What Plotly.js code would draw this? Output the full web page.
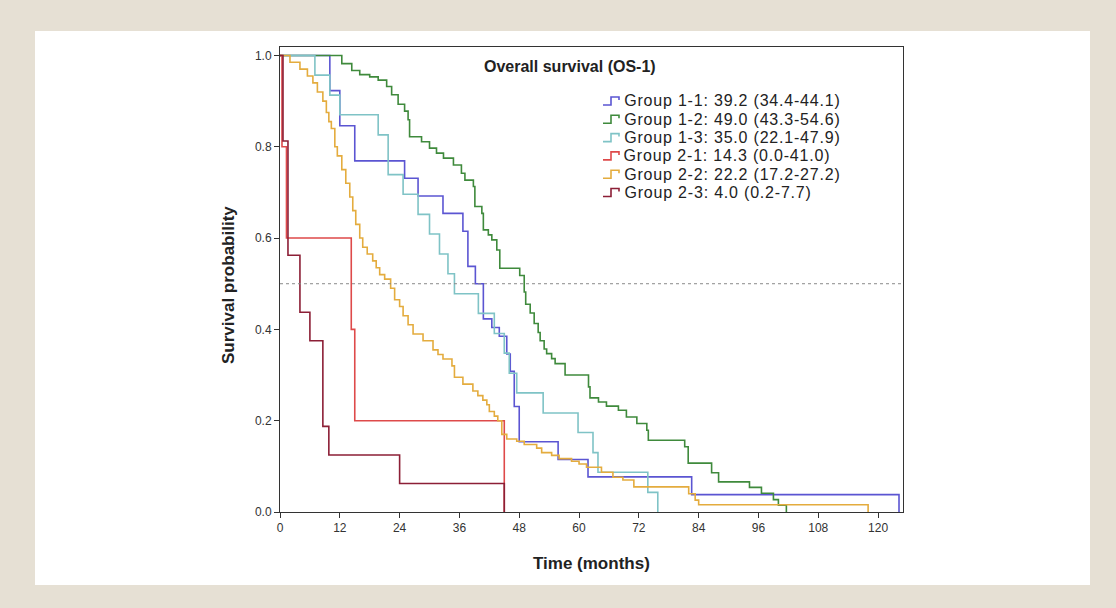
<!DOCTYPE html>
<html>
<head>
<meta charset="utf-8">
<script src="https://cdn.plot.ly/plotly-3.0.1.min.js"></script>
<style>
  html, body { margin: 0; padding: 0; background: #e6e0d4; }
  #chart { width: 1116px; height: 608px; }
  .annotation[data-index="3"] text, .annotation[data-index="4"] text,
  .annotation[data-index="5"] text, .annotation[data-index="6"] text,
  .annotation[data-index="7"] text, .annotation[data-index="8"] text { letter-spacing: 0.8px; }
</style>
</head>
<body>
<div id="chart"></div>
<script>
// ---------- data ----------
const groupNames = ['Group 1-1', 'Group 1-2', 'Group 1-3', 'Group 2-1', 'Group 2-2', 'Group 2-3'];
const medianLabels = ['39.2 (34.4-44.1)', '49.0 (43.3-54.6)', '35.0 (22.1-47.9)', '14.3 (0.0-41.0)', '22.2 (17.2-27.2)', '4.0 (0.2-7.7)'];

const time11 = [0,10,12,15,25,27.7,32.7,36.7,37.7,39.2,40.8,42.5,44,45.5,46.2,47,48,55.8,61.8,82.6,124.2];
const surv11 = [1,0.923,0.846,0.769,0.731,0.692,0.654,0.615,0.538,0.5,0.423,0.404,0.385,0.346,0.308,0.231,0.154,0.115,0.077,0.038,0];

const time12 = [0,12.4,14.4,16,18,19.7,21.4,22.4,23.7,25,25.7,26,28.4,30,31.4,32.8,34.8,36.4,37.1,38.8,39.1,40.5,40.8,41.8,42.5,43.5,44.1,48.1,49,49.3,50.2,51,51.8,52.2,53,53.5,54.5,55.2,57.2,61.9,62.2,63.9,65.5,67.9,69.5,71.6,73.6,73.9,81.2,81.9,86.6,88,94.2,96.6,99,100,101.6];
const surv12 = [1,0.982,0.967,0.958,0.953,0.946,0.932,0.914,0.893,0.878,0.859,0.822,0.811,0.797,0.786,0.775,0.76,0.742,0.727,0.713,0.669,0.654,0.618,0.607,0.596,0.574,0.534,0.518,0.482,0.455,0.436,0.413,0.393,0.375,0.357,0.347,0.336,0.325,0.3,0.274,0.25,0.241,0.232,0.223,0.208,0.194,0.179,0.157,0.143,0.107,0.086,0.066,0.054,0.041,0.027,0.015,0];

const time13 = [0,7,10,12,19.7,21.7,24.7,27.7,30,32,33.7,35,39.8,43,45,46,47.5,52.8,59.8,62.8,63.8,73.8,75.8];
const surv13 = [1,0.957,0.913,0.870,0.826,0.739,0.696,0.652,0.609,0.565,0.522,0.478,0.435,0.391,0.348,0.304,0.261,0.217,0.174,0.130,0.087,0.043,0];

const time21 = [0,0.4,1.3,14.3,15,45];
const surv21 = [1,0.8,0.6,0.4,0.2,0];

const time22 = [0,2,4,5.5,6.6,7.5,8.6,9.3,9.8,10.3,11,11.5,12.4,13.2,14,14.6,15.2,16,16.6,17.5,18.6,19.3,20,21,22.2,23,24,24.7,25.7,26.7,28.7,30.7,31.7,32.7,34.5,35,36.7,38.7,39.7,40.7,41.5,42,43,43.7,44.5,45.5,47.5,49,51.5,52.5,54.5,56,58.5,60,61.5,64.5,66.8,68.8,71,82,83.3,84,118];
const surv22 = [1,0.985,0.97,0.955,0.94,0.92,0.90,0.875,0.855,0.84,0.80,0.78,0.75,0.72,0.69,0.66,0.63,0.60,0.58,0.565,0.55,0.535,0.52,0.51,0.49,0.465,0.45,0.43,0.41,0.39,0.375,0.355,0.345,0.335,0.32,0.295,0.28,0.265,0.255,0.245,0.235,0.22,0.21,0.20,0.17,0.16,0.155,0.148,0.14,0.13,0.124,0.117,0.111,0.105,0.098,0.087,0.076,0.07,0.055,0.04,0.026,0.016,0];

const time23 = [0,0.6,1.6,4,6,8.6,9.8,24,45];
const surv23 = [1,0.8125,0.5625,0.4375,0.375,0.1875,0.125,0.0625,0];

const xTicks = [0,12,24,36,48,60,72,84,96,108,120];
const yTicks = [0,0.2,0.4,0.6,0.8,1.0];
const yTickText = ['0.0','0.2','0.4','0.6','0.8','1.0'];

// ---------- styles ----------
const colors = ['#5b55d2', '#3f8a3c', '#7fc3c6', '#de4a4a', '#e4ac3e', '#8c1f36'];
const FONT = 'Liberation Sans, Arial, sans-serif';
const LEG_SPACING = 0.8; // matches the CSS letter-spacing above

const times = [time11, time12, time13, time21, time22, time23];
const survs = [surv11, surv12, surv13, surv21, surv22, surv23];

// plot area in pixels
const W = 1116, H = 608, L = 280, R = 903, T = 47, B = 512;
const px = x => (x - L) / (R - L);
const py = y => (B - y) / (B - T);

const traces = times.map((t, i) => ({
  x: t, y: survs[i], type: 'scatter', mode: 'lines',
  line: { shape: 'hv', color: colors[i], width: 1.6 },
  name: groupNames[i], showlegend: false, hoverinfo: 'skip'
}));

const shapes = [
  // white inner panel
  { type: 'rect', xref: 'paper', yref: 'paper', layer: 'below',
    x0: px(35), x1: px(1090), y0: py(585), y1: py(31),
    fillcolor: '#ffffff', line: { width: 0 } },
  // dashed median reference line
  { type: 'line', xref: 'paper', yref: 'y', x0: 0, x1: 1, y0: 0.5, y1: 0.5,
    line: { color: '#8a8a8a', width: 1, dash: 'dot' } }
];

const annotations = [
  { text: '<b>Overall survival (OS-1)</b>', xref: 'paper', yref: 'paper',
    x: px(570), y: py(66), showarrow: false, xanchor: 'center', yanchor: 'middle',
    font: { family: FONT, size: 16, color: '#222' } },
  { text: '<b>Time (months)</b>', xref: 'paper', yref: 'paper',
    x: px(591), y: py(563), showarrow: false, xanchor: 'center', yanchor: 'middle',
    font: { family: FONT, size: 17, color: '#222' } },
  { text: '<b>Survival probability</b>', xref: 'paper', yref: 'paper', textangle: -90,
    x: px(228), y: py(285), showarrow: false, xanchor: 'center', yanchor: 'middle',
    font: { family: FONT, size: 17, color: '#222' } }
];

// custom legend (SPSS style step glyph + label)
const legX = 603, legY0 = 101, legDY = 18.3;
groupNames.forEach((g, i) => {
  const yc = legY0 + i * legDY;
  const label = g + ': ' + medianLabels[i];
  const path = `M${px(legX)},${py(yc + 4)} L${px(legX + 8)},${py(yc + 4)} L${px(legX + 8)},${py(yc - 4)} L${px(legX + 16)},${py(yc - 4)} L${px(legX + 16)},${py(yc - 1)}`;
  shapes.push({ type: 'path', xref: 'paper', yref: 'paper', path: path,
    line: { color: colors[i], width: 1.6 } });
  annotations.push({ text: label, xref: 'paper', yref: 'paper',
    x: px(legX + 19 + label.length * LEG_SPACING / 2), y: py(yc), showarrow: false,
    xanchor: 'left', yanchor: 'middle',
    font: { family: FONT, size: 16, color: '#222' } });
});

const axisCommon = {
  showgrid: false, zeroline: false, showline: true, linecolor: '#333', linewidth: 1,
  mirror: true, ticks: 'outside', ticklen: 5, tickcolor: '#333', tickwidth: 1,
  tickfont: { family: FONT, size: 12, color: '#333' }, fixedrange: true
};

const layout = {
  width: W, height: H,
  margin: { l: L, r: W - R, t: T, b: H - B, pad: 0 },
  paper_bgcolor: '#e6e0d4', plot_bgcolor: '#ffffff',
  showlegend: false,
  xaxis: Object.assign({}, axisCommon, { range: [0, 125], tickvals: xTicks, ticktext: xTicks.map(String) }),
  yaxis: Object.assign({}, axisCommon, { range: [0, 1.0185], tickvals: yTicks, ticktext: yTickText }),
  shapes: shapes,
  annotations: annotations
};

Plotly.newPlot('chart', traces, layout, { displayModeBar: false, staticPlot: true });
</script>
</body>
</html>
